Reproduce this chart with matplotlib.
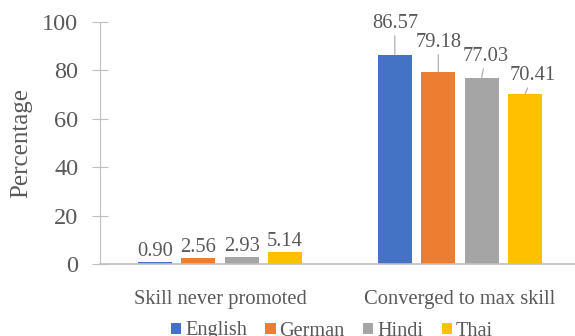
import numpy as np
import matplotlib
matplotlib.use("Agg")
import matplotlib.pyplot as plt

plt.rcParams['font.family'] = ['Liberation Serif', 'DejaVu Serif']

# data
categories = ["Skill never promoted", "Converged to max skill"]
languages = ["English", "German", "Hindi", "Thai"]
english = [0.90, 86.57]
german = [2.56, 79.18]
hindi = [2.93, 77.03]
thai = [5.14, 70.41]
series = [english, german, hindi, thai]
colors = ["#4472C4", "#ED7D31", "#A5A5A5", "#FFC000"]
yticks = [0, 20, 40, 60, 80, 100]

# label offsets (pixels) for the tall bars, which use leader lines
lead_offsets = [(0, 31), (0, 30), (4, 21), (8, 18)]

text_col = "#595959"
axis_col = "#BFBFBF"

fig = plt.figure(figsize=(5.75, 3.36), dpi=100)
ax = fig.add_axes([100/575, 72/336, 475/575, 242/336])

x = np.arange(len(categories))
step = 0.181
width = 0.142
for i, (vals, c, name) in enumerate(zip(series, colors, languages)):
    pos = x + (i - 1.5) * step
    ax.bar(pos, vals, width, color=c, label=name, linewidth=0)
    for j, (p, v) in enumerate(zip(pos, vals)):
        if j == 0:
            ax.annotate(f"{v:.2f}", xy=(p, v), xytext=(0, 10), textcoords='offset pixels',
                        ha='center', va='center', fontsize=14.8, color=text_col)
        else:
            dx, dy = lead_offsets[i]
            ax.annotate(f"{v:.2f}", xy=(p, v), xytext=(dx, dy), textcoords='offset pixels',
                        ha='center', va='center', fontsize=14.8, color=text_col,
                        arrowprops=dict(arrowstyle='-', color='#A6A6A6', lw=0.8,
                                        shrinkA=0, shrinkB=0))

ax.set_ylim(0, 100)
ax.set_xlim(-0.5, -0.5 + 475/240)
ax.set_yticks(yticks)
ax.set_xticks(x)
ax.set_xticklabels(categories)

for s in ['top', 'right']:
    ax.spines[s].set_visible(False)
ax.spines['left'].set_color(axis_col)
ax.spines['bottom'].set_color(axis_col)
ax.spines['bottom'].set_linewidth(1.2)

ax.tick_params(axis='y', direction='inout', length=11, color=axis_col,
               labelsize=17.5, labelcolor=text_col, pad=10)
ax.tick_params(axis='x', length=0, labelsize=14.8, labelcolor=text_col, pad=19)
ax.set_ylabel("Percentage", fontsize=18, color=text_col, labelpad=7)

fig.legend(loc='center', bbox_to_anchor=(332/575, 1 - 331/336), ncol=4, frameon=False,
           fontsize=14.6, handlelength=0.5, handleheight=0.5, handletextpad=0.2,
           columnspacing=0.9, labelcolor=text_col, borderpad=0)

fig.savefig("out.png", dpi=100)
